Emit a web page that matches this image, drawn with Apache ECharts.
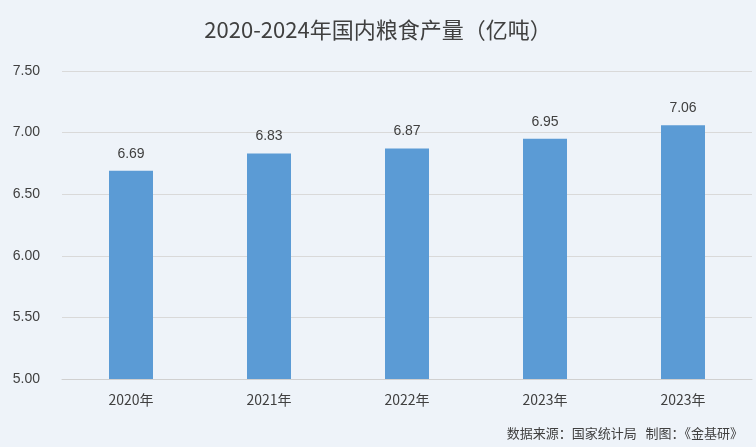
<!DOCTYPE html>
<html><head><meta charset="utf-8">
<script src="https://cdn.jsdelivr.net/npm/echarts@6/dist/echarts.min.js"></script>
<style>html,body{margin:0;padding:0;background:#eef3f9}#c{width:756px;height:447px}</style>
</head><body><div id="c"></div>
<script>
const categories = ['2020年','2021年','2022年','2023年','2023年'];
const values = [6.69, 6.83, 6.87, 6.95, 7.06];
const yTicks = [5.0, 5.5, 6.0, 6.5, 7.0, 7.5];
const chart = echarts.init(document.getElementById('c'));
chart.setOption({
  backgroundColor: '#eef3f9',
  animation: false,
  title: [{text: '2020-2024年国内粮食产量（亿吨）', left: 'center', top: 14,
    textStyle: {fontFamily: 'Noto Sans CJK SC', fontSize: 22, fontWeight: 'normal', color: '#404040'}},
    {text: '数据来源：国家统计局   制图：《金基研》', right: 8, bottom: 2,
    textStyle: {fontFamily: 'Noto Sans CJK SC', fontSize: 13, fontWeight: 'normal', color: '#404040'}}],
  grid: {left: 62, right: 4, top: 71, bottom: 68},
  xAxis: {type: 'category', data: categories,
    axisLine: {lineStyle: {color: '#d0d0d0'}}, axisTick: {show: false},
    axisLabel: {color: '#404040', fontSize: 14, fontFamily: 'Noto Sans CJK SC', margin: 14}},
  yAxis: {type: 'value', min: yTicks[0], max: yTicks[yTicks.length-1], interval: 0.5,
    axisLabel: {color: '#404040', fontSize: 14, formatter: v => v.toFixed(2), margin: 22},
    splitLine: {lineStyle: {color: '#d9d9d9'}}},
  series: [{type: 'bar', data: values, barWidth: 44,
    itemStyle: {color: '#5b9bd5'},
    label: {show: true, position: 'top', distance: 10, color: '#404040', fontSize: 14, formatter: p => p.value.toFixed(2)}}]
});
</script></body></html>
